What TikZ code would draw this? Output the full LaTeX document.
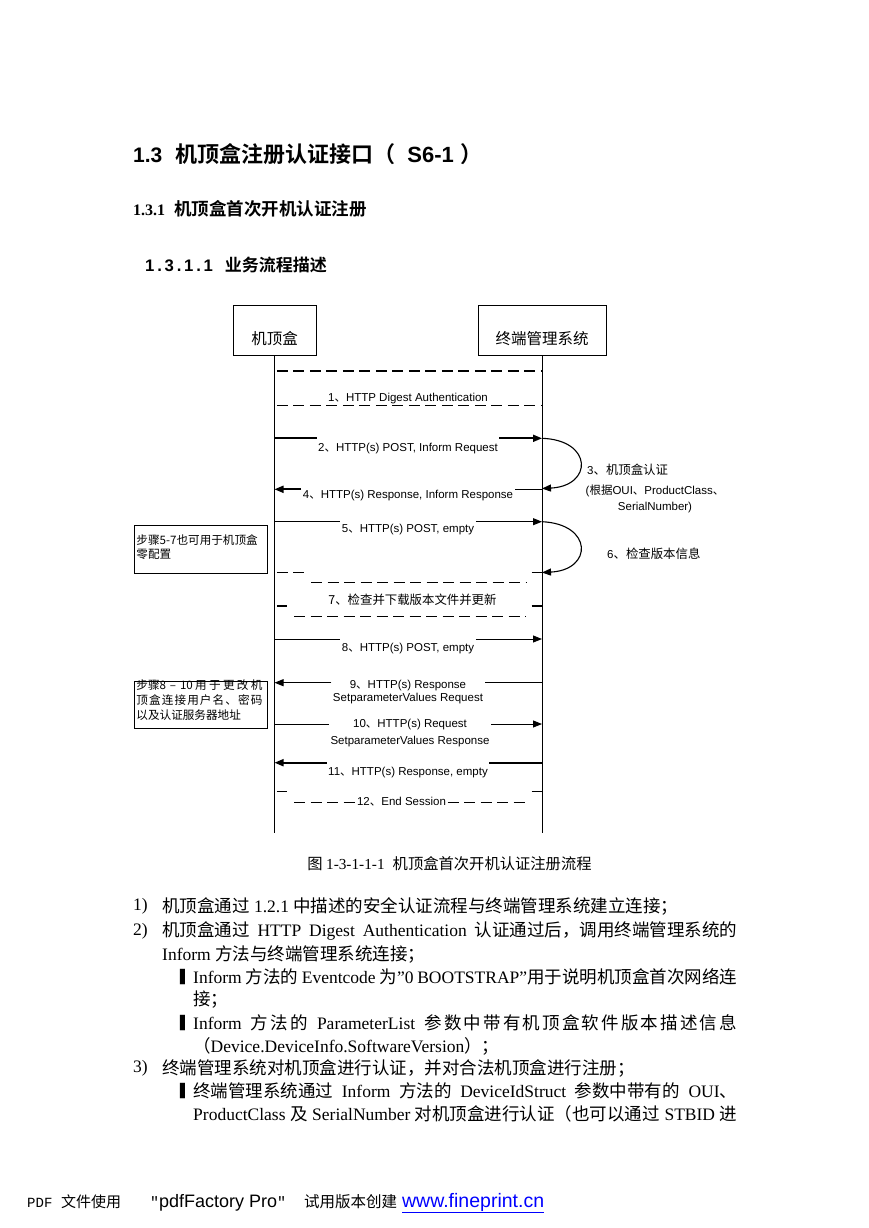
\documentclass[tikz,border=0pt]{standalone}
\usepackage{fontspec}
\setmainfont{Liberation Serif}
\setsansfont{Liberation Sans}
\setmonofont{Liberation Mono}
\newfontfamily\zhfont{Noto Sans CJK SC}[BoldFont={Noto Sans CJK SC Bold}]
\newfontfamily\blockfont{DejaVu Sans}
\newcommand\zh[1]{{\zhfont #1}}
\newcommand\pxsize[1]{\fontsize{#1}{#1}\selectfont}
% 汉字之间加可伸缩的间距（两端对齐用）
\newskip\zhgap
\def\spreadloop#1#2{#1\ifx#2\relax\else\hskip\zhgap\expandafter\spreadloop\expandafter#2\fi}
\newcommand\spreadzh[1]{\spreadloop#1\relax}
\usetikzlibrary{arrows.meta}

\begin{document}
\begin{tikzpicture}[x=1pt, y=-1pt,
  actor/.style={draw, line width=0.9pt, inner sep=0pt, text height=39.9pt, text depth=10.1pt, font=\zhfont\pxsize{15.5}},
  life/.style={line width=0.9pt},
  msg/.style={line width=0.9pt, -{Triangle[length=9pt, width=7pt]}},
  msgthick/.style={msg, line width=1.8pt},
  seg/.style={line width=0.9pt},
  segthick/.style={line width=1.8pt},
  dashmsg/.style={line width=1.1pt, dash pattern=on 11pt off 5.5pt},
  stub/.style={line width=1.1pt},
  selfmsg/.style={line width=1.1pt, -{Triangle[length=9pt, width=7pt]}},
  lbl/.style={inner xsep=1.5pt, inner ysep=1pt, font=\sffamily\fontsize{11.5}{13}\selectfont, align=center},
  side/.style={inner sep=0pt, font=\sffamily\fontsize{11.5}{15.7}\selectfont, align=center},
  note/.style={draw, line width=0.9pt, anchor=north west, text width=129pt, inner xsep=2pt, inner ysep=1pt, align=left},
  body/.style={anchor=west, inner sep=0pt, font=\rmfamily\pxsize{17.5}},
  bul/.style={anchor=west, inner sep=0pt, font=\blockfont\pxsize{13}}]

  % 页面
  \path[fill=white, use as bounding box] (0,0) rectangle (868,1228);

  % 标题
  \node[anchor=base west, inner sep=0pt, font=\sffamily\bfseries\pxsize{21}] (h1) at (133,162.5)
    {1.3\hspace{13pt}\zh{\pxsize{22}机顶盒注册认证接口（}\hspace{12pt}{\pxsize{22}S6-1}\hspace{7pt}\zh{\pxsize{22}）}};
  \node[anchor=base west, inner sep=0pt, font=\rmfamily\bfseries\pxsize{16}] (h2) at (133,215.5)
    {1.3.1\hspace{9pt}\zh{\pxsize{17.5}机顶盒首次开机认证注册}};
  \node[anchor=base west, inner sep=0pt, font=\sffamily\bfseries\pxsize{16.7}] (h3) at (145,271)
    {1\,.\,3\,.\,1\,.\,1\hspace{12pt}\zh{\pxsize{17}业务流程描述}};

  % 机顶盒 / 终端管理系统
  \node[actor, minimum width=83pt] (stb) at (274.5,330) {机顶盒};
  \node[actor, minimum width=128pt] (tms) at (542,330) {终端管理系统};
  \draw[life] (stb.south) -- (stb.south |- 0,832.7);
  \draw[life] (tms.south) -- (tms.south |- 0,832.7);

  % 1
  \draw[dashmsg] ([xshift=2.4pt]stb.south |- 0,371) -- (tms.south |- 0,371);
  \node[lbl] (m1) at (408,398.3) {1\zh{、}HTTP Digest Authentication};
  \draw[dashmsg] ([xshift=2.4pt]stb.south |- 0,405.7) -- (tms.south |- 0,405.7);

  % 2
  \node[lbl] (m2) at (408,448.3) {2\zh{、}HTTP(s) POST, Inform Request};
  \draw[segthick] (stb.south |- 0,438.3) -- (m2.west |- 0,438.3);
  \draw[msgthick] (m2.east |- 0,438.3) -- (tms.south |- 0,438.3);

  % 3
  \draw[selfmsg] (tms.south |- 0,438.3) .. controls (593,440) and (593,486) .. (tms.south |- 0,488.5);
  \node[side, anchor=west] (c3) at (587,470) {3\zh{\pxsize{12.4}、机顶盒认证}};
  \node[side] (c3b) at (655,499) {(\zh{根据}OUI\zh{、}ProductClass\zh{、}\\SerialNumber)};

  % 4
  \node[lbl] (m4) at (408,496) {4\zh{、}HTTP(s) Response, Inform Response};
  \draw[msgthick] (m4.west |- 0,489.3) -- (stb.south |- 0,489.3);
  \draw[seg] (tms.south |- 0,489.3) -- (m4.east |- 0,489.3);

  % 5
  \node[lbl] (m5) at (408,530) {5\zh{、}HTTP(s) POST, empty};
  \draw[seg] (stb.south |- 0,521.7) -- (m5.west |- 0,521.7);
  \draw[msg] (m5.east |- 0,521.7) -- (tms.south |- 0,521.7);

  % 6
  \draw[selfmsg] (tms.south |- 0,521.7) .. controls (593,524) and (593,570) .. (tms.south |- 0,572.5);
  \node[side, anchor=west] (c6) at (607,554) {6\zh{\pxsize{12.4}、检查版本信息}};

  % 备注 5-7
  \node[note, text height=17.7pt, text depth=28.6pt, font=\zhfont\fontsize{11.6}{14.7}\selectfont] (n1) at (134,525)
    {步骤5-7也可用于机顶盒\\零配置};

  % 7
  \draw[dashmsg] ([xshift=2.4pt]stb.south |- 0,572.7) -- ++(28.3,0);
  \draw[stub] ([xshift=-10.3pt]tms.south |- 0,572.7) -- (tms.south |- 0,572.7);
  \draw[dashmsg] ([xshift=36.7pt]stb.south |- 0,582.7) -- ([xshift=-16pt]tms.south |- 0,582.7);
  \node[lbl, font=\zhfont\pxsize{12.4}] (m7) at (412.5,599.3) {7、检查并下载版本文件并更新};
  \draw[stub] ([xshift=2.4pt]stb.south |- 0,606) -- ++(10.3,0);
  \draw[stub] ([xshift=-10.3pt]tms.south |- 0,606) -- (tms.south |- 0,606);
  \draw[dashmsg] ([xshift=19.7pt]stb.south |- 0,616.7) -- ([xshift=-16pt]tms.south |- 0,616.7);

  % 8
  \node[lbl] (m8) at (408,649) {8\zh{、}HTTP(s) POST, empty};
  \draw[seg] (stb.south |- 0,639) -- (m8.west |- 0,639);
  \draw[msg] (m8.east |- 0,639) -- (tms.south |- 0,639);

  % 9
  \node[lbl] (m9) at (408,691.8) {9\zh{、}HTTP(s) Response\\SetparameterValues Request};
  \draw[msg] (m9.west |- 0,682.7) -- (stb.south |- 0,682.7);
  \draw[seg] (tms.south |- 0,682.7) -- (m9.east |- 0,682.7);

  % 备注 8-10
  \node[note, text height=7.7pt, text depth=37.9pt, font=\zhfont\fontsize{11.6}{15}\selectfont] (n2) at (134,680.7)
    {\zhgap=0pt plus 1fil
     \makebox[126pt][s]{步骤8 – 10\hskip\zhgap\spreadzh{用于更改机}}\\
     \makebox[126pt][s]{\spreadzh{顶盒连接用户名、密码}}\\
     以及认证服务器地址};

  % 10
  \node[lbl] (m10) at (410,732.9) {10\zh{、}HTTP(s) Request\\[4.7pt]SetparameterValues Response};
  \draw[seg] (stb.south |- 0,724) -- (m10.west |- 0,724);
  \draw[msg] (m10.east |- 0,724) -- (tms.south |- 0,724);

  % 11
  \node[lbl] (m11) at (408,772.7) {11\zh{、}HTTP(s) Response, empty};
  \draw[msgthick] (m11.west |- 0,762.7) -- (stb.south |- 0,762.7);
  \draw[segthick] (tms.south |- 0,762.7) -- (m11.east |- 0,762.7);

  % 12
  \draw[stub] ([xshift=2.4pt]stb.south |- 0,791.7) -- ++(10.3,0);
  \draw[stub] ([xshift=-10.3pt]tms.south |- 0,791.7) -- (tms.south |- 0,791.7);
  \node[lbl] (m12) at (401.5,801.7) {12\zh{、}End Session};
  \draw[dashmsg] ([xshift=19.7pt]stb.south |- 0,802.3) -- (m12.west |- 0,802.3);
  \draw[dashmsg] (m12.east |- 0,802.3) -- ([xshift=-16pt]tms.south |- 0,802.3);

  % 图题
  \node[inner sep=0pt, font=\zhfont\pxsize{15.3}] (cap) at (449.5,863.3)
    {图 {\rmfamily 1-3-1-1-1}\hspace{8pt}机顶盒首次开机认证注册流程};

  % 正文
  \node[body] (n1a) at (133,906) {1)};
  \node[body] (t1) at (162,906) {\zh{机顶盒通过} 1.2.1 \zh{中描述的安全认证流程与终端管理系统建立连接；}};
  \node[body] (n2a) at (133,931) {2)};
  \node[body] (t2) at (162,931) {\makebox[575pt][s]{\zh{机顶盒通过} HTTP Digest Authentication \zh{认证通过后，调用终端管理系统的}}};
  \node[body] (t3) at (162,954) {Inform \zh{方法与终端管理系统连接；}};
  \node[bul] (b1) at (180,977) {▌};
  \node[body] (t4) at (193,977) {\makebox[544pt][s]{Inform \zh{方法的} Eventcode \zh{为}”0 BOOTSTRAP”\zh{用于说明机顶盒首次网络连}}};
  \node[body] (t5) at (193,1000) {\zh{接；}};
  \node[bul] (b2) at (180,1023) {▌};
  \node[body] (t6) at (193,1023) {\zhgap=0pt plus 1pt
    \makebox[544pt][s]{Inform \zh{\spreadzh{方法的}} ParameterList \zh{\spreadzh{参数中带有机顶盒软件版本描述信息}}}};
  \node[body] (t7) at (193,1046) {\zh{（}Device.DeviceInfo.SoftwareVersion\zh{）；}};
  \node[body] (n3a) at (133,1068) {3)};
  \node[body] (t8) at (162,1068) {\zh{终端管理系统对机顶盒进行认证，并对合法机顶盒进行注册；}};
  \node[bul] (b3) at (180,1091) {▌};
  \node[body] (t9) at (193,1091) {\makebox[544pt][s]{\zh{终端管理系统通过} Inform \zh{方法的} DeviceIdStruct \zh{参数中带有的} OUI\zh{、}}};
  \node[body] (t10) at (193,1114) {\makebox[544pt][s]{ProductClass \zh{及} SerialNumber \zh{对机顶盒进行认证（也可以通过} STBID \zh{进}}};

  % 页脚
  \node[anchor=west, inner sep=0pt, font=\sffamily\pxsize{18}] (foot) at (27,1203)
    {{\ttfamily\pxsize{14}PDF}\hspace{8.7pt}\zh{\pxsize{15}文件使用}\hspace{29pt}{\ttfamily\pxsize{15}"}pdfFactory Pro{\ttfamily\pxsize{15}"}\hspace{18pt}\zh{\pxsize{15.5}试用版本创建}\hspace{5pt}\textcolor{blue}{\pxsize{19.5}\underline{www.fineprint.cn}}};
\end{tikzpicture}
\end{document}
